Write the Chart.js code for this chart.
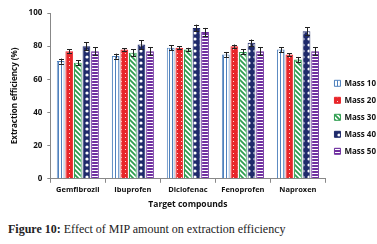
<!DOCTYPE html>
<html>
<head>
<meta charset="utf-8">
<script src="https://cdn.jsdelivr.net/npm/chart.js@4.4.0/dist/chart.umd.min.js"></script>
<style>
  body { margin: 0; background: #fff; width: 377px; height: 244px; overflow: hidden; position: relative; }
  #wrap { position: absolute; left: 0; top: 0; width: 377px; height: 210px; }
  #caption { position: absolute; left: 8px; top: 222px; font-family: "Liberation Serif", "DejaVu Serif", serif; font-size: 12px; color: #222; white-space: nowrap; }
  #caption b { font-weight: bold; }
</style>
</head>
<body>
<div id="wrap"><canvas id="chart"></canvas></div>
<div id="caption"><b>Figure 10:</b> Effect of MIP amount on extraction efficiency</div>
<script>
var compounds = ["Gemfibrozil", "Ibuprofen", "Diclofenac", "Fenoprofen", "Naproxen"];
var seriesNames = ["Mass 10", "Mass 20", "Mass 30", "Mass 40", "Mass 50"];
var mass10 = [71, 74, 79, 75, 78];
var mass20 = [77, 78, 79, 80, 75];
var mass30 = [70, 76, 78, 76.5, 72];
var mass40 = [80, 81, 91, 82, 89];
var mass50 = [77, 77, 88.5, 77, 77];
var err10 = [1.5, 1.5, 1.5, 1.5, 1.5];
var err20 = [1.2, 0.8, 1, 1, 0.8];
var err30 = [1.5, 2, 1, 1.5, 1.5];
var err40 = [2.5, 2.5, 2, 2, 2.5];
var err50 = [2.5, 2.5, 2.5, 2.5, 2.5];
var yTicks = [0, 20, 40, 60, 80, 100];

function makePattern(kind) {
    var c = document.createElement('canvas');
    var g = c.getContext('2d');
    if (kind === 'vlines') {
        c.width = 3; c.height = 3;
        g.fillStyle = '#ffffff'; g.fillRect(0, 0, 3, 3);
        g.fillStyle = '#4f81bd'; g.fillRect(1, 0, 1, 3);
    } else if (kind === 'dots') {
        c.width = 4; c.height = 4;
        g.fillStyle = '#e8262a'; g.fillRect(0, 0, 4, 4);
        g.fillStyle = '#fbd6d6'; g.fillRect(1, 1, 1, 1);
    } else if (kind === 'diag') {
        c.width = 5; c.height = 5;
        g.fillStyle = '#ffffff'; g.fillRect(0, 0, 5, 5);
        g.strokeStyle = '#2e9e4f'; g.lineWidth = 1.8;
        g.beginPath();
        g.moveTo(-1, -1); g.lineTo(6, 6);
        g.moveTo(-1, 4); g.lineTo(1, 6);
        g.moveTo(4, -1); g.lineTo(6, 1);
        g.stroke();
    } else if (kind === 'circles') {
        c.width = 6; c.height = 6;
        g.fillStyle = '#1f2a6b'; g.fillRect(0, 0, 6, 6);
        g.fillStyle = '#ffffff';
        g.beginPath(); g.arc(3, 3, 1.6, 0, Math.PI * 2); g.fill();
    } else {
        c.width = 3; c.height = 3;
        g.fillStyle = '#ffffff'; g.fillRect(0, 0, 3, 3);
        g.fillStyle = '#7030a0'; g.fillRect(0, 0, 3, 2);
    }
    return g.createPattern(c, 'repeat');
}

var ctx = document.getElementById('chart').getContext('2d');
var values = [mass10, mass20, mass30, mass40, mass50];
var errors = [err10, err20, err30, err40, err50];
var kinds = ['vlines', 'dots', 'diag', 'circles', 'hlines'];
var borders = ['#4f81bd', '#e8262a', '#2e9e4f', '#1f2a6b', '#7030a0'];

var datasets = seriesNames.map(function (name, i) {
    return {
        label: name,
        data: values[i],
        errors: errors[i],
        backgroundColor: makePattern(kinds[i]),
        borderColor: borders[i],
        borderWidth: 1
    };
});

var errorBars = {
    id: 'errorBars',
    afterDatasetsDraw: function (chart) {
        var g = chart.ctx;
        var y = chart.scales.y;
        g.save();
        g.strokeStyle = '#222';
        g.lineWidth = 1;
        chart.data.datasets.forEach(function (ds, i) {
            var meta = chart.getDatasetMeta(i);
            meta.data.forEach(function (bar, j) {
                var v = ds.data[j], e = ds.errors[j];
                var top = y.getPixelForValue(v + e), bot = y.getPixelForValue(v - e);
                var x = Math.round(bar.x) + 0.5;
                g.beginPath();
                g.moveTo(x, top); g.lineTo(x, bot);
                g.moveTo(x - 2.5, Math.round(top) + 0.5); g.lineTo(x + 2.5, Math.round(top) + 0.5);
                g.moveTo(x - 2.5, Math.round(bot) + 0.5); g.lineTo(x + 2.5, Math.round(bot) + 0.5);
                g.stroke();
            });
        });
        g.restore();
    }
};

var chart = new Chart(ctx, {
    type: 'bar',
    data: { labels: compounds, datasets: datasets },
    options: {
        responsive: true,
        maintainAspectRatio: false,
        animation: false,
        layout: { padding: { top: 13, left: 10, right: -9, bottom: 0 } },
        datasets: { bar: { categoryPercentage: 0.78, barPercentage: 0.9 } },
        plugins: {
            tooltip: { enabled: false },
            legend: {
                position: 'right',
                align: 'center',
                title: { display: true, text: '', padding: 1, font: { size: 8 } },
                labels: {
                    boxWidth: 6,
                    boxHeight: 6,
                    padding: 9,
                    color: '#111',
                    font: { family: 'Open Sans', size: 8, weight: 'bold' }
                }
            }
        },
        scales: {
            x: {
                grid: { display: true, drawOnChartArea: false, offset: true, color: '#888', tickLength: 4 },
                border: { color: '#888' },
                ticks: { color: '#111', font: { family: 'Open Sans', size: 7.5, weight: 'bold' }, padding: 3 },
                title: { display: true, text: 'Target compounds', color: '#111', font: { family: 'Open Sans', size: 8.5, weight: 'bold' }, padding: { top: 2, bottom: 0 } }
            },
            y: {
                min: 0,
                max: 100,
                afterBuildTicks: function (axis) { axis.ticks = yTicks.map(function (v) { return { value: v }; }); },
                grid: { display: true, drawOnChartArea: false, color: '#888', tickLength: 3 },
                border: { color: '#888' },
                ticks: { color: '#111', font: { family: 'Open Sans', size: 8, weight: 'bold' }, padding: 5 },
                title: { display: true, text: 'Extraction efficiency (%)', color: '#111', font: { family: 'Open Sans', size: 8, weight: 'bold' }, padding: { top: 0, bottom: 4 } }
            }
        }
    },
    plugins: [errorBars]
});
</script>
</body>
</html>
